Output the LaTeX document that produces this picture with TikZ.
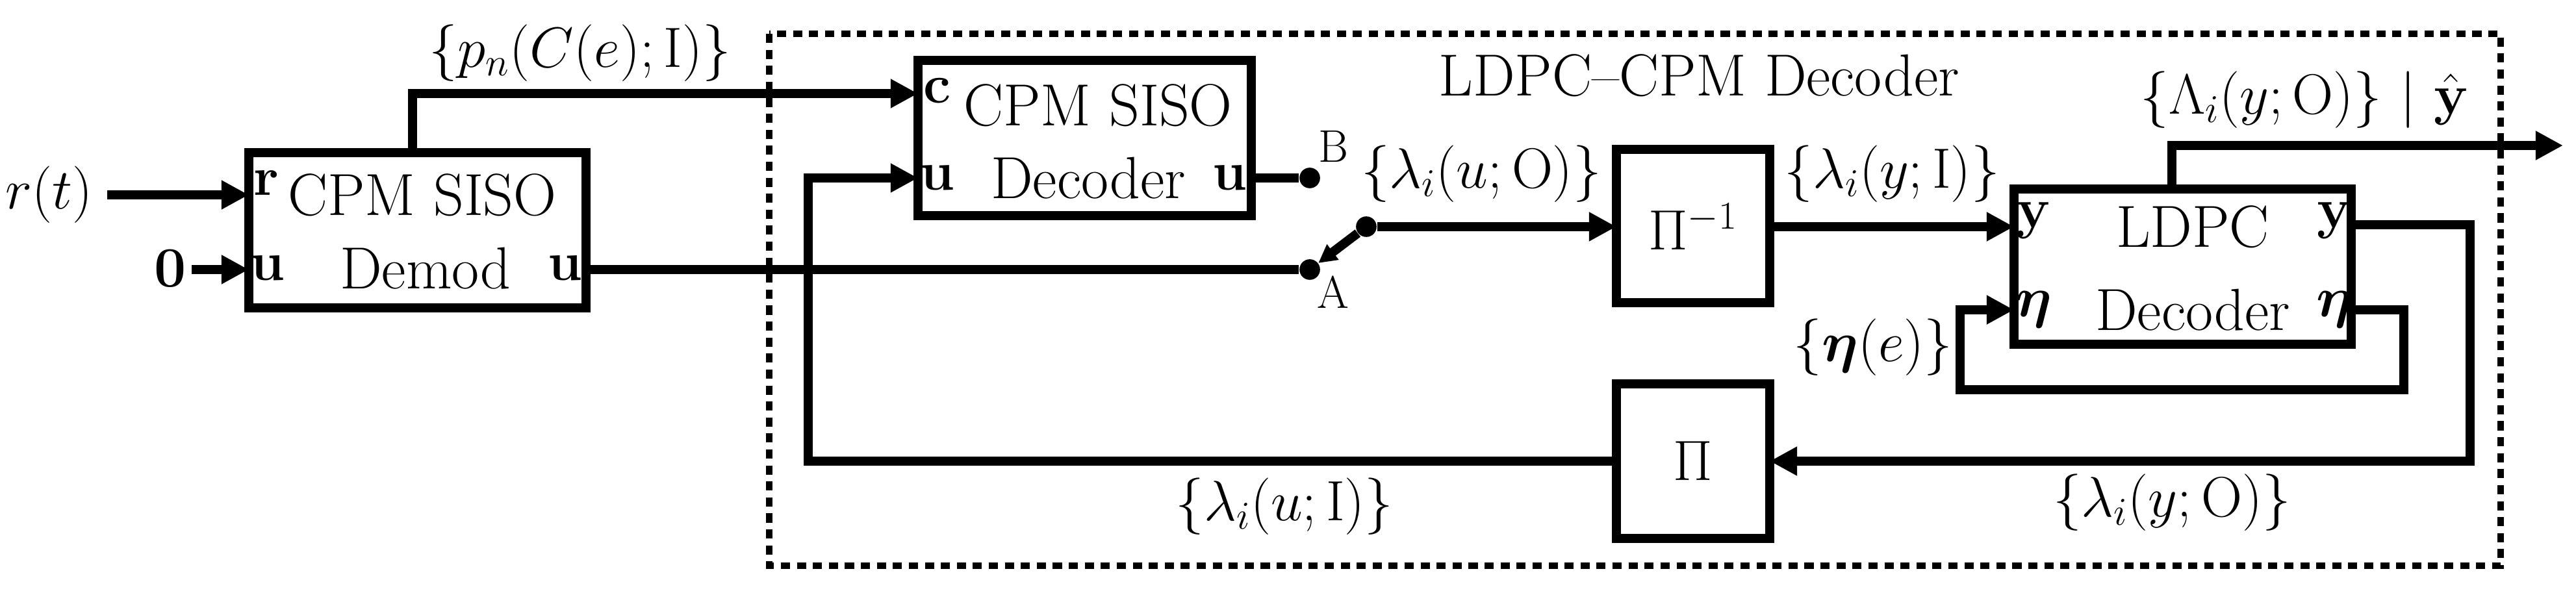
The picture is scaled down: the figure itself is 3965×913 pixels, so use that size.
\documentclass[tikz,border=0pt]{standalone}
\usepackage{amsmath,bm}
\usetikzlibrary{arrows.meta}
\begin{document}
\begin{tikzpicture}[x=0.01cm,y=-0.01cm,
  every node/.style={font=\fontsize{26}{30}\selectfont, inner sep=0pt},
  blk/.style={draw, line width=4pt, rectangle},
  ln/.style={line width=4pt},
  arr/.style={ln, -{Triangle[length=12pt,width=12pt]}},
  dotc/.style={circle, fill, minimum size=9pt, inner sep=0pt},
  port/.style={font=\fontsize{24}{28}\selectfont\bfseries}]
\useasboundingbox (0,0) rectangle (3965,913);
% dotted frame
\draw[line width=3pt, dash pattern=on 4pt off 3pt] (1184,52) rectangle (3849,871);
\node (title) at (2615,116) {LDPC--CPM Decoder};
% blocks
\draw[blk] (383,235) rectangle (902,474);
\node (dm) at (650,300) {CPM SISO};
\node at (655,413) {Demod};
\node[port] at (410,282) {r};
\node[port] at (412,413) {u};
\node[port] at (870,413) {u};
\coordinate (dmR) at (902,415); \coordinate (dmT) at (635,235);
\coordinate (dmI1) at (383,300); \coordinate (dmI2) at (383,415);

\draw[blk] (1413,93) rectangle (1926,332);
\node at (1690,162) {CPM SISO};
\node at (1675,274) {Decoder};
\node[port] at (1443,140) {c};
\node[port] at (1443,274) {u};
\node[port] at (1893,274) {u};
\coordinate (dcC) at (1413,144); \coordinate (dcU) at (1413,274); \coordinate (dcR) at (1926,274);

\draw[blk] (2488,230) rectangle (2724,466);
\node (pinv) at (2606,349) {$\Pi^{-1}$};
\draw[blk] (2488,591) rectangle (2724,829);
\node (pi) at (2606,710) {$\Pi$};

\draw[blk] (3100,291) rectangle (3619,530);
\node at (3375,349) {LDPC};
\node at (3375,477) {Decoder};
\node[port] at (3130,340) {$\mathbf{y}$};
\node[port] at (3130,477) {$\bm{\eta}$};
\node[port] at (3593,340) {$\mathbf{y}$};
\node[port] at (3593,477) {$\bm{\eta}$};

% inputs
\node[anchor=west] (rt) at (8,300) {$r(t)$};
\node (zero) at (262,413) {$\mathbf{0}$};
\draw[arr] (165,300) -- (dmI1);
\draw[arr] (295,415) -- (dmI2);
% demod top to decoder c
\draw[arr] (dmT) -- (635,144) -- (dcC);
\node at (893,82) {$\{p_n(C(e);\mathrm{I})\}$};
% switch
\node[dotc] (A) at (2016,415) {};
\node[dotc] (B) at (2016,274) {};
\node[dotc] (P) at (2103,349) {};
\node at (2052,450) {\fontsize{20}{24}\selectfont A};
\node at (2052,225) {\fontsize{20}{24}\selectfont B};
\draw[ln] (dmR) -- (A);
\draw[ln] (dcR) -- (B);
\draw[ln, -{Triangle[length=8pt,width=8pt]}] (P) -- (A);
\draw[arr] (P) -- (2488,349);
\node at (2280,268) {$\{\lambda_i(u;\mathrm{O})\}$};
\draw[arr] (2724,349) -- (3100,349);
\node at (2912,268) {$\{\lambda_i(y;\mathrm{I})\}$};
% top output
\draw[arr] (3343,291) -- (3343,224) -- (3945,224);
\node at (3547,154) {$\{\Lambda_i(y;\mathrm{O})\}\ |\ \hat{\mathbf{y}}$};
% y output to Pi
\draw[arr] (3619,346) -- (3802,346) -- (3802,710) -- (2724,710);
\node at (3343,774) {$\{\lambda_i(y;\mathrm{O})\}$};
% eta loop
\draw[arr] (3619,477) -- (3700,477) -- (3700,600) -- (3017,600) -- (3017,477) -- (3100,477);
\node at (2883,535) {$\{\bm{\eta}(e)\}$};
% Pi to decoder u
\draw[arr] (2488,710) -- (1244,710) -- (1244,274) -- (dcU);
\node at (1977,780) {$\{\lambda_i(u;\mathrm{I})\}$};
\end{tikzpicture}
\end{document}
